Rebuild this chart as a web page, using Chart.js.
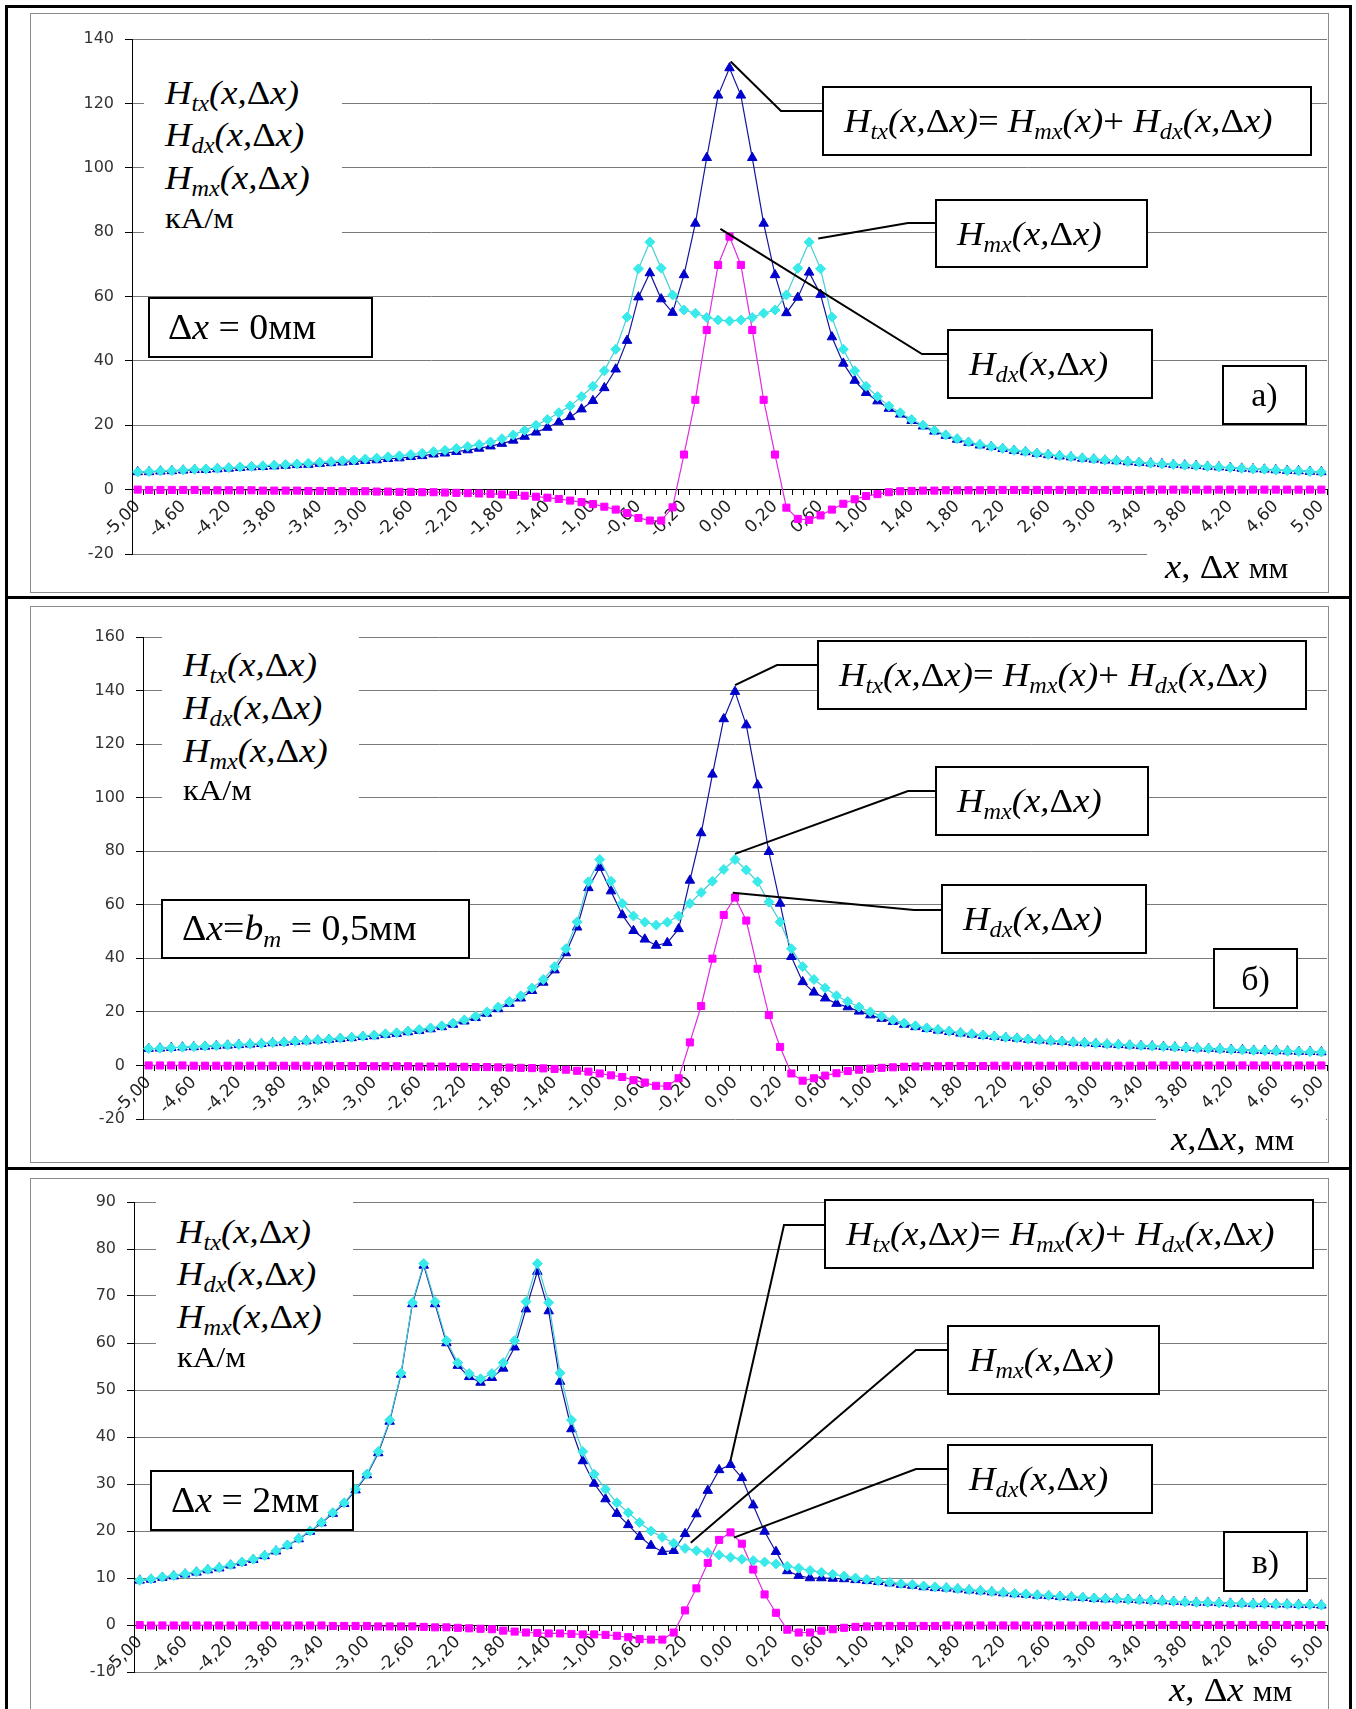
<!DOCTYPE html>
<html lang="ru">
<head>
<meta charset="utf-8">
<title>Htx, Hmx, Hdx</title>
<script src="https://cdn.jsdelivr.net/npm/chart.js@4.4.1/dist/chart.umd.min.js"></script>
<style>
  html, body { margin: 0; padding: 0; background: #fff; }
  #page { position: relative; width: 1356px; height: 1709px; overflow: hidden; background: #fff; }
  .rule { position: absolute; background: #000; }
  .frame { position: absolute; box-sizing: border-box; border: 1px solid #8c8c8c; }
  canvas { position: absolute; left: 0; z-index: 1; }
  .mask { position: absolute; background: #fff; z-index: 2; }
  .tm { position: absolute; z-index: 3; font-family: "Liberation Serif", "Times New Roman", serif; color: #000;
        white-space: nowrap; line-height: 40px; font-size: 34px; }
  .tm sub { font-size: 0.66em; vertical-align: -0.3em; line-height: 0; }
  .up { font-style: normal; }
  .mm { font-style: normal; font-size: 0.85em; }
  .box { box-sizing: border-box; border: 2px solid #000; display: flex; align-items: center; }
  .wide { display: inline-block; transform: scaleX(1.08); transform-origin: 0 50%; }
</style>
</head>
<body>
<div id="page">
  <div class="frame" style="left:5px;top:5px;width:1347px;height:1730px;border:3px solid #000"></div>
  <div class="rule" style="left:5px;top:596px;width:1347px;height:3px"></div>
  <div class="rule" style="left:5px;top:1167px;width:1347px;height:3px"></div>
  <div class="frame" style="left:30px;top:13px;width:1299px;height:580px"></div>
  <div class="frame" style="left:30px;top:606px;width:1299px;height:557px"></div>
  <div class="frame" style="left:30px;top:1178px;width:1299px;height:600px"></div>
  <canvas id="c1" width="1356" height="597" style="top:0"></canvas>
  <canvas id="c2" width="1356" height="569" style="top:599px"></canvas>
  <canvas id="c3" width="1356" height="539" style="top:1170px"></canvas>
</div>
<script>
// x, mm (step 0.05 near the centre, 0.1 elsewhere)
const xValues = [
  -5.0, -4.9, -4.8, -4.7, -4.6, -4.5, -4.4, -4.3, -4.2, -4.1,
  -4.0, -3.9, -3.8, -3.7, -3.6, -3.5, -3.4, -3.3, -3.2, -3.1,
  -3.0, -2.9, -2.8, -2.7, -2.6, -2.5, -2.4, -2.3, -2.2, -2.1,
  -2.0, -1.9, -1.8, -1.7, -1.6, -1.5, -1.4, -1.3, -1.2, -1.1,
  -1.0, -0.9, -0.8, -0.7, -0.6, -0.5, -0.4, -0.3, -0.2, -0.15,
  -0.1, -0.05, 0.0, 0.05, 0.1, 0.15, 0.2, 0.3, 0.4, 0.5,
  0.6, 0.7, 0.8, 0.9, 1.0, 1.1, 1.2, 1.3, 1.4, 1.5,
  1.6, 1.7, 1.8, 1.9, 2.0, 2.1, 2.2, 2.3, 2.4, 2.5,
  2.6, 2.7, 2.8, 2.9, 3.0, 3.1, 3.2, 3.3, 3.4, 3.5,
  3.6, 3.7, 3.8, 3.9, 4.0, 4.1, 4.2, 4.3, 4.4, 4.5,
  4.6, 4.7, 4.8, 4.9, 5.0
];

// а) dx = 0 mm
const htx0 = [
  5.5, 5.5, 5.7, 5.8, 6.0, 6.2, 6.2, 6.4, 6.6, 6.8,
  7.0, 7.1, 7.3, 7.5, 7.7, 7.8, 8.1, 8.3, 8.5, 8.7,
  9.0, 9.2, 9.6, 9.8, 10.2, 10.5, 11.0, 11.3, 11.8, 12.3,
  12.8, 13.5, 14.3, 15.3, 16.5, 17.8, 19.3, 21.0, 22.6, 25.0,
  27.6, 31.6, 37.4, 46.3, 59.8, 67.3, 59.2, 55.0, 66.7, 82.7,
  103.1, 122.5, 131.0, 122.5, 103.1, 82.7, 66.7, 54.9, 59.7, 67.5,
  60.6, 47.4, 39.2, 33.9, 30.1, 27.5, 25.2, 23.4, 21.4, 19.7,
  18.1, 16.8, 15.6, 14.6, 13.8, 13.3, 12.7, 12.1, 11.7, 11.2,
  10.8, 10.4, 10.1, 9.7, 9.4, 9.1, 8.9, 8.6, 8.4, 8.2,
  8.0, 7.8, 7.6, 7.4, 7.2, 7.0, 6.8, 6.6, 6.4, 6.3,
  6.1, 5.9, 5.8, 5.6, 5.5
];
const hmx0 = [
  5.5, 5.6, 5.8, 5.9, 6.1, 6.3, 6.4, 6.6, 6.8, 7.0,
  7.2, 7.4, 7.6, 7.8, 8.0, 8.2, 8.5, 8.7, 9.0, 9.2,
  9.5, 9.8, 10.2, 10.5, 10.9, 11.3, 11.8, 12.2, 12.8, 13.4,
  14.0, 14.8, 15.8, 17.0, 18.4, 20.0, 21.8, 23.9, 26.0, 28.9,
  32.1, 36.9, 43.6, 53.6, 68.6, 76.9, 68.8, 60.5, 55.8, 54.8,
  53.5, 52.7, 52.4, 52.7, 53.5, 54.8, 55.8, 60.5, 68.8, 76.9,
  68.6, 53.6, 43.6, 36.9, 32.1, 28.9, 26.0, 23.9, 21.8, 20.0,
  18.4, 17.0, 15.8, 14.8, 14.0, 13.4, 12.8, 12.2, 11.8, 11.3,
  10.9, 10.5, 10.2, 9.8, 9.5, 9.2, 9.0, 8.7, 8.5, 8.2,
  8.0, 7.8, 7.6, 7.4, 7.2, 7.0, 6.8, 6.6, 6.4, 6.3,
  6.1, 5.9, 5.8, 5.6, 5.5
];
const hdx0 = [
  0.0, -0.1, -0.1, -0.1, -0.1, -0.1, -0.2, -0.2, -0.2, -0.2,
  -0.2, -0.3, -0.3, -0.3, -0.3, -0.4, -0.4, -0.4, -0.5, -0.5,
  -0.5, -0.6, -0.6, -0.7, -0.7, -0.8, -0.8, -0.9, -1.0, -1.1,
  -1.2, -1.3, -1.5, -1.7, -1.9, -2.2, -2.5, -2.9, -3.4, -3.9,
  -4.5, -5.3, -6.2, -7.3, -8.8, -9.6, -9.6, -5.5, 10.9, 27.9,
  49.6, 69.8, 78.6, 69.8, 49.6, 27.9, 10.9, -5.6, -9.1, -9.4,
  -8.0, -6.2, -4.4, -3.0, -2.0, -1.4, -0.8, -0.5, -0.4, -0.3,
  -0.3, -0.2, -0.2, -0.2, -0.2, -0.1, -0.1, -0.1, -0.1, -0.1,
  -0.1, -0.1, -0.1, -0.1, -0.1, -0.1, -0.1, -0.1, -0.1, 0.0,
  0.0, 0.0, 0.0, 0.0, 0.0, 0.0, 0.0, 0.0, 0.0, 0.0,
  0.0, 0.0, 0.0, 0.0, 0.0
];

// б) dx = bm = 0.5 mm
const htx05 = [
  6.3, 6.4, 6.6, 6.8, 6.9, 7.1, 7.3, 7.5, 7.7, 7.9,
  8.1, 8.4, 8.6, 8.9, 9.1, 9.4, 9.7, 10.0, 10.3, 10.7,
  11.0, 11.5, 11.9, 12.5, 13.0, 13.6, 14.4, 15.3, 16.5, 17.8,
  19.4, 21.1, 23.1, 25.1, 27.9, 31.0, 35.6, 42.0, 51.6, 66.3,
  73.9, 65.1, 56.2, 50.3, 47.1, 44.8, 45.8, 51.0, 69.1, 86.8,
  108.7, 129.4, 139.6, 127.1, 104.7, 79.8, 60.5, 40.6, 31.2, 27.3,
  25.1, 23.1, 21.8, 20.2, 18.8, 17.5, 16.3, 15.3, 14.4, 13.7,
  13.1, 12.6, 12.0, 11.6, 11.1, 10.8, 10.4, 10.1, 9.7, 9.4,
  9.1, 8.9, 8.6, 8.4, 8.1, 7.9, 7.7, 7.5, 7.3, 7.2,
  7.0, 6.8, 6.6, 6.4, 6.3, 6.1, 5.9, 5.8, 5.6, 5.5,
  5.4, 5.3, 5.2, 5.1, 5.0
];
const hmx05 = [
  6.3, 6.4, 6.6, 6.8, 7.0, 7.2, 7.4, 7.6, 7.8, 8.0,
  8.2, 8.5, 8.7, 9.0, 9.2, 9.5, 9.8, 10.2, 10.5, 10.9,
  11.3, 11.8, 12.2, 12.8, 13.4, 14.0, 14.8, 15.8, 17.0, 18.4,
  20.0, 21.8, 23.9, 26.0, 28.9, 32.1, 36.9, 43.6, 53.6, 68.6,
  76.9, 68.8, 60.5, 55.8, 53.5, 52.4, 53.5, 55.8, 60.5, 64.6,
  68.8, 73.2, 76.9, 73.0, 68.6, 61.0, 53.6, 43.6, 36.9, 32.1,
  28.9, 26.0, 23.9, 21.8, 20.0, 18.4, 17.0, 15.8, 14.8, 14.0,
  13.4, 12.8, 12.2, 11.8, 11.3, 10.9, 10.5, 10.2, 9.8, 9.5,
  9.2, 9.0, 8.7, 8.5, 8.2, 8.0, 7.8, 7.6, 7.4, 7.2,
  7.0, 6.8, 6.6, 6.4, 6.3, 6.1, 5.9, 5.8, 5.6, 5.5,
  5.4, 5.3, 5.2, 5.1, 5.0
];
const hdx05 = [
  0.0, 0.0, 0.0, 0.0, -0.1, -0.1, -0.1, -0.1, -0.1, -0.1,
  -0.1, -0.1, -0.1, -0.1, -0.1, -0.1, -0.1, -0.2, -0.2, -0.2,
  -0.3, -0.3, -0.3, -0.3, -0.4, -0.4, -0.4, -0.5, -0.5, -0.6,
  -0.6, -0.7, -0.8, -0.9, -1.0, -1.1, -1.3, -1.6, -2.0, -2.3,
  -3.0, -3.7, -4.3, -5.5, -6.4, -7.6, -7.7, -4.8, 8.6, 22.2,
  39.9, 56.2, 62.7, 54.1, 36.1, 18.8, 6.9, -3.0, -5.7, -4.8,
  -3.8, -2.9, -2.1, -1.6, -1.2, -0.9, -0.7, -0.5, -0.4, -0.3,
  -0.3, -0.2, -0.2, -0.2, -0.2, -0.1, -0.1, -0.1, -0.1, -0.1,
  -0.1, -0.1, -0.1, -0.1, -0.1, -0.1, -0.1, -0.1, -0.1, 0.0,
  0.0, 0.0, 0.0, 0.0, 0.0, 0.0, 0.0, 0.0, 0.0, 0.0,
  0.0, 0.0, 0.0, 0.0, 0.0
];

// в) dx = 2 mm
const htx2 = [
  9.5, 9.7, 10.1, 10.4, 10.8, 11.2, 11.7, 12.1, 12.7, 13.3,
  13.9, 14.7, 15.7, 16.9, 18.3, 19.9, 21.7, 23.7, 25.8, 28.7,
  31.9, 36.6, 43.3, 53.3, 68.3, 76.5, 68.3, 60.0, 55.2, 52.8,
  51.6, 52.6, 54.6, 59.1, 67.2, 75.2, 66.8, 51.8, 41.7, 34.9,
  30.1, 26.8, 23.7, 21.3, 18.8, 16.9, 15.6, 15.8, 19.4, 23.6,
  28.6, 33.0, 34.1, 31.3, 25.5, 19.9, 15.6, 11.5, 10.5, 10.0,
  10.0, 9.9, 9.8, 9.6, 9.4, 9.2, 8.9, 8.6, 8.4, 8.1,
  7.9, 7.8, 7.6, 7.4, 7.2, 7.0, 6.8, 6.6, 6.5, 6.3,
  6.2, 6.0, 5.9, 5.8, 5.6, 5.5, 5.5, 5.4, 5.3, 5.2,
  5.1, 5.0, 4.9, 4.8, 4.8, 4.7, 4.6, 4.6, 4.5, 4.5,
  4.4, 4.4, 4.3, 4.3, 4.2
];
const hmx2 = [
  9.5, 9.8, 10.2, 10.5, 10.9, 11.3, 11.8, 12.2, 12.8, 13.4,
  14.0, 14.8, 15.8, 17.0, 18.4, 20.0, 21.8, 23.9, 26.0, 28.9,
  32.1, 36.9, 43.6, 53.6, 68.6, 76.9, 68.8, 60.5, 55.8, 53.5,
  52.4, 53.5, 55.8, 60.5, 68.8, 76.9, 68.6, 53.6, 43.6, 36.9,
  32.1, 28.9, 26.0, 23.9, 21.8, 20.0, 18.7, 17.4, 16.3, 15.8,
  15.4, 14.9, 14.4, 14.0, 13.7, 13.4, 13.0, 12.5, 12.1, 11.6,
  11.2, 10.8, 10.4, 10.0, 9.7, 9.4, 9.1, 8.8, 8.6, 8.3,
  8.1, 7.9, 7.7, 7.5, 7.3, 7.1, 6.9, 6.7, 6.6, 6.4,
  6.3, 6.1, 6.0, 5.9, 5.7, 5.6, 5.5, 5.4, 5.3, 5.2,
  5.1, 5.0, 4.9, 4.8, 4.8, 4.7, 4.6, 4.6, 4.5, 4.5,
  4.4, 4.4, 4.3, 4.3, 4.2
];
const hdx2 = [
  0.0, -0.1, -0.1, -0.1, -0.1, -0.1, -0.1, -0.1, -0.1, -0.1,
  -0.1, -0.1, -0.1, -0.1, -0.1, -0.1, -0.1, -0.2, -0.2, -0.2,
  -0.2, -0.3, -0.3, -0.3, -0.3, -0.4, -0.5, -0.5, -0.6, -0.7,
  -0.8, -0.9, -1.2, -1.4, -1.6, -1.7, -1.8, -1.8, -1.9, -2.0,
  -2.0, -2.1, -2.3, -2.6, -3.0, -3.1, -3.1, -1.6, 3.1, 7.8,
  13.2, 18.1, 19.7, 17.3, 11.8, 6.5, 2.6, -1.0, -1.6, -1.6,
  -1.2, -0.9, -0.6, -0.4, -0.3, -0.2, -0.2, -0.2, -0.2, -0.2,
  -0.2, -0.1, -0.1, -0.1, -0.1, -0.1, -0.1, -0.1, -0.1, -0.1,
  -0.1, -0.1, -0.1, -0.1, -0.1, -0.1, 0.0, 0.0, 0.0, 0.0,
  0.0, 0.0, 0.0, 0.0, 0.0, 0.0, 0.0, 0.0, 0.0, 0.0,
  0.0, 0.0, 0.0, 0.0, 0.0
];

const xLabels = xValues.map(v => v.toFixed(2).replace('.', ','));

const BLUE = '#0000cc', BLUE_LINE = '#14149c';
const CYAN = '#38eaea', CYAN_LINE = '#45cdd4';
const MAGENTA = '#ff00ff', MAGENTA_LINE = '#e02ce0';

Chart.defaults.font.family = '"DejaVu Sans", sans-serif';
Chart.defaults.color = '#222';

// text formulas (Times-like, as in the original figure)
const D = '<span class="up">Δ</span>';
const HTX = `<i>H<sub>tx</sub>(x,${D}x)</i>`;
const HDX = `<i>H<sub>dx</sub>(x,${D}x)</i>`;
const HMX = `<i>H<sub>mx</sub>(x,${D}x)</i>`;
const SUM = `${HTX}= <i>H<sub>mx</sub>(x)</i>+ ${HDX}`;
const XAXIS = `<i>x</i>, ${D}<i>x</i> <span class="mm">мм</span>`;
const XAXIS2 = `<i>x</i>,${D}<i>x</i>, <span class="mm">мм</span>`;

// boxes are white-filled on the canvas under the series, so marks stay visible
const boxPlugin = {
  id: 'boxes',
  beforeDatasetsDraw(chart, args, opts) {
    const ctx = chart.ctx;
    ctx.save();
    ctx.fillStyle = '#fff';
    opts.rects.forEach(r => ctx.fillRect(r[0], r[1] - opts.top, r[2], r[3]));
    ctx.restore();
  }
};

// leader lines: start on the plot (category index, value), then elbow/end in page px
const leaderPlugin = {
  id: 'leaders',
  afterDraw(chart, args, opts) {
    const { ctx, scales: { x, y } } = chart;
    ctx.save();
    ctx.strokeStyle = '#000';
    ctx.lineWidth = 2;
    opts.items.forEach(l => {
      ctx.beginPath();
      ctx.moveTo(x.getPixelForValue(l.idx), y.getPixelForValue(l.val));
      ctx.lineTo(l.elbow[0], l.elbow[1] - opts.top);
      ctx.lineTo(l.end[0], l.end[1] - opts.top);
      ctx.stroke();
    });
    ctx.restore();
  }
};

function series(label, data, color, line, style, radius) {
  return {
    label, data,
    borderColor: line, borderWidth: 1.2,
    backgroundColor: color,
    pointBackgroundColor: color, pointBorderColor: color, pointBorderWidth: 1,
    pointStyle: style, pointRadius: radius, pointHoverRadius: radius
  };
}

const panels = [
  {
    canvas: 'c1', top: 0, yMin: -20, yMax: 140, yStep: 20,
    padding: { left: 72, right: 29, top: 39, bottom: 43 },
    htx: htx0, hmx: hmx0, hdx: hdx0,
    leaders: [
      { idx: 52.1, val: 133, elbow: [781, 111], end: [822, 111] },
      { idx: 59.8, val: 78, elbow: [908, 223], end: [935, 223] },
      { idx: 51.2, val: 81, elbow: [922, 354], end: [947, 354] }
    ],
    overlays: [
      { mask: [144, 62, 198, 180] },
      { at: [165, 73], html: HTX },
      { at: [165, 115], html: HDX },
      { at: [165, 158], html: HMX },
      { at: [165, 198], html: 'кА/м', size: 30 },
      { box: [148, 297, 225, 61], html: `${D}<i>x</i> = 0мм`, pad: 18, size: 35 },
      { box: [822, 86, 490, 70], html: SUM, pad: 20 },
      { box: [935, 199, 213, 69], html: HMX, pad: 20 },
      { box: [947, 329, 206, 70], html: HDX, pad: 20 },
      { box: [1222, 365, 85, 60], html: 'а)', center: true },
      { mask: [1147, 548, 180, 42] },
      { at: [1165, 547], html: XAXIS }
    ]
  },
  {
    canvas: 'c2', top: 599, yMin: -20, yMax: 160, yStep: 20,
    padding: { left: 83, right: 29, top: 38, bottom: 49 },
    htx: htx05, hmx: hmx05, hdx: hdx05,
    leaders: [
      { idx: 52.0, val: 142, elbow: [777, 665], end: [817, 665] },
      { idx: 52.0, val: 79, elbow: [908, 791], end: [935, 791] },
      { idx: 51.8, val: 64.5, elbow: [914, 910], end: [941, 910] }
    ],
    overlays: [
      { mask: [162, 628, 197, 178] },
      { at: [183, 645], html: HTX },
      { at: [183, 688], html: HDX },
      { at: [183, 731], html: HMX },
      { at: [183, 770], html: 'кА/м', size: 30 },
      { box: [161, 899, 309, 60], html: `${D}<i>x</i>=<i>b<sub>m</sub></i> = 0,5мм`, pad: 19, size: 35 },
      { box: [817, 640, 490, 70], html: SUM, pad: 20 },
      { box: [935, 766, 214, 70], html: HMX, pad: 20 },
      { box: [941, 884, 206, 70], html: HDX, pad: 20 },
      { box: [1213, 948, 85, 61], html: 'б)', center: true },
      { mask: [1156, 1117, 170, 42] },
      { at: [1171, 1119], html: XAXIS2 }
    ]
  },
  {
    canvas: 'c3', top: 1170, yMin: -10, yMax: 90, yStep: 10,
    padding: { left: 74, right: 29, top: 32, bottom: 37 },
    htx: htx2, hmx: hmx2, hdx: hdx2,
    leaders: [
      { idx: 52.0, val: 35, elbow: [784, 1225], end: [824, 1225] },
      { idx: 48.5, val: 17.5, elbow: [916, 1350], end: [947, 1350] },
      { idx: 52.3, val: 18.6, elbow: [916, 1469], end: [947, 1469] }
    ],
    overlays: [
      { mask: [156, 1195, 197, 160] },
      { at: [177, 1212], html: HTX },
      { at: [177, 1254], html: HDX },
      { at: [177, 1297], html: HMX },
      { at: [177, 1337], html: 'кА/м', size: 30 },
      { box: [150, 1470, 204, 61], html: `${D}<i>x</i> = 2мм`, pad: 19, size: 35 },
      { box: [824, 1199, 490, 70], html: SUM, pad: 20 },
      { box: [947, 1325, 213, 70], html: HMX, pad: 20 },
      { box: [947, 1444, 206, 70], html: HDX, pad: 20 },
      { box: [1223, 1531, 85, 61], html: 'в)', center: true },
      { at: [1169, 1670], html: XAXIS }
    ]
  }
];

function makePanel(p) {
  return new Chart(document.getElementById(p.canvas), {
    type: 'line',
    data: {
      labels: xLabels,
      datasets: [
        series('Hmx', p.hmx, CYAN, CYAN_LINE, 'rectRot', 5),
        series('Htx', p.htx, BLUE, BLUE_LINE, 'triangle', 5.5),
        series('Hdx', p.hdx, MAGENTA, MAGENTA_LINE, 'rect', 5)
      ]
    },
    options: {
      responsive: false,
      animation: false,
      devicePixelRatio: 1,
      events: [],
      layout: { padding: p.padding },
      plugins: {
        legend: { display: false },
        tooltip: { enabled: false },
        boxes: { rects: p.overlays.filter(o => o.box).map(o => o.box), top: p.top },
        leaders: { items: p.leaders, top: p.top }
      },
      scales: {
        x: {
          type: 'category',
          position: { y: 0 },
          offset: true,
          grid: { drawOnChartArea: false, offset: true, tickLength: 5, color: '#000' },
          border: { color: '#000', width: 1 },
          ticks: {
            autoSkip: false, minRotation: 45, maxRotation: 45, padding: 2,
            color: '#222', font: { size: 17 },
            callback: (v, i) => (i % 4 === 0 ? xLabels[i] : '')
          }
        },
        y: {
          min: p.yMin, max: p.yMax,
          grid: { color: '#7a7a7a', tickLength: 7, tickColor: '#000' },
          border: { color: '#000', width: 1 },
          ticks: { stepSize: p.yStep, padding: 11, color: '#333', font: { size: 16 } },
          afterFit: s => { s.width = 60; }
        }
      }
    },
    plugins: [boxPlugin, leaderPlugin]
  });
}

const page = document.getElementById('page');

function addOverlay(o) {
  const el = document.createElement('div');
  let rect;
  if (o.mask) { el.className = 'mask'; rect = o.mask; }
  else if (o.box) { el.className = 'tm box'; rect = o.box; }
  else { el.className = 'tm'; rect = o.at; }
  el.style.left = rect[0] + 'px';
  el.style.top = rect[1] + 'px';
  if (rect.length > 2) { el.style.width = rect[2] + 'px'; el.style.height = rect[3] + 'px'; }
  if (o.size) el.style.fontSize = o.size + 'px';
  if (o.pad != null) el.style.paddingLeft = o.pad + 'px';
  if (o.center) el.style.justifyContent = 'center';
  if (o.html) el.innerHTML = o.center ? o.html : `<span class="wide">${o.html}</span>`;
  page.appendChild(el);
}

panels.forEach(p => {
  makePanel(p);
  p.overlays.forEach(addOverlay);
});
</script>
</body>
</html>
